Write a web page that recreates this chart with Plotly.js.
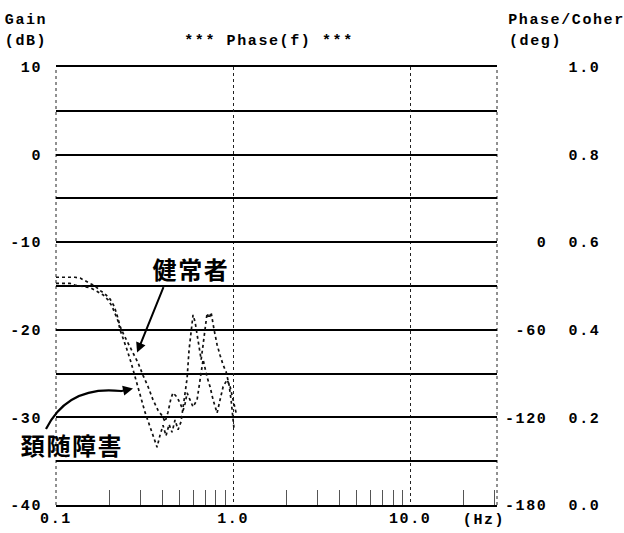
<!DOCTYPE html>
<html>
<head>
<meta charset="utf-8">
<script src="https://cdn.plot.ly/plotly-3.0.1.min.js"></script>
<style>
  html, body { margin: 0; padding: 0; background: #fff; }
  #chart { width: 624px; height: 533px; }
  .main-svg text { letter-spacing: 1.6px; }
</style>
</head>
<body>
<div id="chart"></div>
<script>
// ---- data ----
const freqA = [0.100,0.108,0.120,0.128,0.140,0.156,0.170,0.184,0.197,0.207,0.215,0.224,0.230,0.239,0.252,0.265,0.280,0.298,0.318,0.340,0.358,0.372,0.387,0.402,0.418,0.435,0.452,0.470,0.489,0.508,0.529,0.550,0.564,0.579,0.594,0.610,0.634,0.660,0.677,0.695,0.713,0.732,0.751,0.781,0.812,0.844,0.878,0.913,0.949,0.974,1.000,1.013];
const gainA = [-14.7,-14.7,-14.7,-14.9,-15.0,-15.2,-15.6,-16.0,-16.6,-17.3,-18.1,-19.0,-20.0,-20.9,-22.3,-23.7,-25.4,-27.4,-29.4,-31.1,-32.4,-33.4,-32.0,-30.9,-32.1,-30.8,-31.7,-30.3,-31.4,-30.5,-28.0,-25.5,-22.3,-19.8,-18.3,-19.1,-21.2,-23.4,-21.7,-19.5,-18.1,-18.7,-18.0,-20.0,-21.7,-22.9,-24.0,-24.8,-26.3,-28.0,-30.3,-31.4];

const freqB = [0.100,0.112,0.128,0.137,0.146,0.156,0.166,0.177,0.189,0.202,0.213,0.221,0.230,0.242,0.255,0.272,0.291,0.310,0.331,0.353,0.377,0.397,0.413,0.429,0.446,0.458,0.483,0.502,0.522,0.536,0.550,0.571,0.594,0.626,0.651,0.677,0.713,0.741,0.771,0.812,0.844,0.878,0.925,0.962,1.000,1.040];
const gainB = [-14.0,-14.0,-14.0,-14.1,-14.4,-14.7,-15.0,-15.5,-15.9,-16.5,-17.3,-18.3,-19.6,-20.6,-21.5,-22.6,-23.8,-25.2,-26.5,-28.0,-29.2,-29.8,-30.5,-29.4,-27.8,-27.2,-27.7,-28.4,-29.2,-28.4,-27.2,-28.0,-28.8,-28.0,-25.4,-23.4,-25.4,-26.5,-28.0,-29.5,-28.0,-26.5,-25.7,-26.5,-28.0,-29.5];

const gainTicks = [-40,-30,-20,-10,0,10];
const freqTicks = [0.1, 1, 10];
const freqTickText = ['0.1','1.0','10.0'];
const minorFreqTicks = [0.2,0.3,0.4,0.5,0.6,0.7,0.8,0.9,2,3,4,5,6,7,8,9,20,30];
const phaseTicks = [-180,-120,-60,0];
const cohTicks = [0.0,0.2,0.4,0.6,0.8,1.0];
const labelA = '頚随障害';
const labelB = '健常者';

// ---- geometry helpers (text placement only) ----
const M = {l:56, r:127, t:67, b:28};
const W = 624, H = 533;
const pw = W - M.l - M.r, ph = H - M.t - M.b;
const px = x => (x - M.l) / pw;
const py = y => (H - M.b - y) / ph;
const xRangeLog = [-1, 1.49];

// right-side combined labels (phase / coherence), mapped to gain scale
const gainRange = [-40, 10];
const nb = '\u00a0';
const rightVals = cohTicks.map(c => gainRange[0] + c * (gainRange[1] - gainRange[0]));
const rightText = cohTicks.map((c, i) => {
  const g = rightVals[i];
  const ph = phaseTicks.find(p => Math.abs((gainRange[0] + (p + 180) / 6) - g) < 1e-6);
  const phs = (ph === undefined ? '' : String(ph)).padStart(4, ' ').replace(/ /g, nb);
  return phs + nb + nb + c.toFixed(1);
});

const monoFont = {family: 'Liberation Mono, Courier New, monospace', size: 15, color: '#000', weight: 'bold'};
const cjkFont = {family: 'Noto Sans CJK JP, sans-serif', size: 24, color: '#000', weight: 'bold'};

const lineStyle = {color: '#111', width: 1.7, dash: 'dot'};

const traces = [
  {x: freqA, y: gainA, type: 'scatter', mode: 'lines', line: lineStyle, name: labelA, hoverinfo: 'skip'},
  {x: freqB, y: gainB, type: 'scatter', mode: 'lines', line: lineStyle, name: labelB, hoverinfo: 'skip'},
  {x: [], y: [], type: 'scatter', mode: 'lines', yaxis: 'y2', showlegend: false, hoverinfo: 'skip'}
];

const frameDot = {color: '#222', width: 1, dash: 'dot'};

const layout = {
  width: W, height: H,
  margin: M,
  paper_bgcolor: '#fff', plot_bgcolor: '#fff',
  showlegend: false,
  font: monoFont,
  xaxis: {
    type: 'log', range: xRangeLog,
    tickmode: 'array',
    tickvals: freqTicks,
    ticktext: freqTickText,
    ticks: '', ticklabelstandoff: -2,
    showgrid: true, gridcolor: '#222', gridwidth: 1, griddash: 'dot',
    showline: true, linecolor: '#000', linewidth: 2, mirror: true,
    zeroline: false,
    tickfont: monoFont,
    minor: {tickmode: 'array', tickvals: minorFreqTicks, ticks: 'inside', ticklen: 15, tickwidth: 1, tickcolor: '#555', showgrid: false}
  },
  yaxis: {
    range: gainRange,
    tickmode: 'array', tickvals: gainTicks, ticktext: gainTicks.map(String),
    ticks: '', ticklabelstandoff: 13,
    showgrid: true, gridcolor: '#000', gridwidth: 2,
    minor: {dtick: 5, tick0: 0, showgrid: true, gridcolor: '#000', gridwidth: 2},
    showline: false, zeroline: false,
    tickfont: monoFont
  },
  yaxis2: {
    overlaying: 'y', side: 'right', range: gainRange,
    tickmode: 'array', tickvals: rightVals, ticktext: rightText,
    ticks: '', ticklabelstandoff: 7,
    showgrid: false, zeroline: false, showline: false,
    tickfont: monoFont
  },
  annotations: [
    {text: 'Gain', xref: 'paper', yref: 'paper', x: px(6), y: py(20), xanchor: 'left', yanchor: 'middle', showarrow: false, font: monoFont},
    {text: '(dB)', xref: 'paper', yref: 'paper', x: px(6), y: py(42), xanchor: 'left', yanchor: 'middle', showarrow: false, font: monoFont},
    {text: '***' + nb + 'Phase(f)' + nb + '***', xref: 'paper', yref: 'paper', x: px(269), y: py(42), xanchor: 'center', yanchor: 'middle', showarrow: false, font: monoFont},
    {text: 'Phase/Coher', xref: 'paper', yref: 'paper', x: px(515), y: py(20), xanchor: 'left', yanchor: 'middle', showarrow: false, font: monoFont},
    {text: '(deg)', xref: 'paper', yref: 'paper', x: px(511), y: py(42), xanchor: 'left', yanchor: 'middle', showarrow: false, font: monoFont},
    {text: '(Hz)', xref: 'paper', yref: 'paper', x: px(484), y: py(520), xanchor: 'center', yanchor: 'middle', showarrow: false, font: monoFont},
    {text: labelB, xref: 'paper', yref: 'paper', x: px(191), y: py(268), xanchor: 'center', yanchor: 'middle', showarrow: false, font: cjkFont},
    {text: labelA, xref: 'paper', yref: 'paper', x: px(72), y: py(444), xanchor: 'center', yanchor: 'middle', showarrow: false, font: cjkFont},
    // arrow to 健常者 curve
    {text: '', xref: 'x', yref: 'y', x: Math.log10(0.287), y: -22.6, ax: 27, ay: -67, showarrow: true, arrowhead: 2, arrowsize: 1, arrowwidth: 2, arrowcolor: '#000'},
    // arrow head for 頚随障害 curve
    {text: '', xref: 'x', yref: 'y', x: Math.log10(0.272), y: -26.7, ax: -14, ay: 3, showarrow: true, arrowhead: 2, arrowsize: 1, arrowwidth: 2, arrowcolor: '#000'}
  ],
  shapes: [
    {type: 'line', xref: 'paper', yref: 'paper', x0: 0, x1: 0, y0: 0, y1: 1, line: frameDot, layer: 'below'},
    {type: 'line', xref: 'paper', yref: 'paper', x0: 1, x1: 1, y0: 0, y1: 1, line: frameDot, layer: 'below'},
    {type: 'path', xref: 'paper', yref: 'paper',
     path: `M ${px(46)} ${py(429)} Q ${px(68)} ${py(385)} ${px(121)} ${py(391)}`,
     line: {color: '#000', width: 2.2}}
  ]
};

Plotly.newPlot('chart', traces, layout, {staticPlot: true, displayModeBar: false});
</script>
</body>
</html>
